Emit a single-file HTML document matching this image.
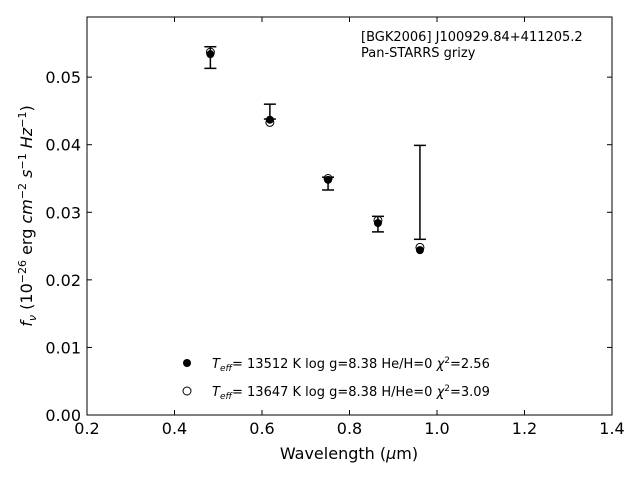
<!DOCTYPE html>
<html><head><meta charset="utf-8"><style>
body{margin:0;background:#fff;}
svg{font-family:"DejaVu Sans","Liberation Sans",sans-serif;}
</style></head><body>
<svg id="chart" width="640" height="480" viewBox="0 0 640 480" xmlns="http://www.w3.org/2000/svg">
<rect x="0" y="0" width="640" height="480" fill="#fff"/>
<g id="marks"></g>
<rect x="87" y="17" width="525" height="398" fill="none" stroke="#000" stroke-width="1"/>
<g id="ticks"></g>
<text x="349" y="459" font-size="16" text-anchor="middle">Wavelength (<tspan font-style="italic">μ</tspan>m)</text>
<text transform="translate(32,216) rotate(-90)" font-size="16" text-anchor="middle"><tspan font-style="italic">f</tspan><tspan font-style="italic" font-size="11" dy="4">ν</tspan><tspan dy="-4"> (10</tspan><tspan font-size="11" dy="-6">−26</tspan><tspan dy="6"> erg </tspan><tspan font-style="italic">cm</tspan><tspan font-size="11" dy="-6">−2</tspan><tspan dy="6"> </tspan><tspan font-style="italic">s</tspan><tspan font-size="11" dy="-6">−1</tspan><tspan dy="6"> </tspan><tspan font-style="italic">Hz</tspan><tspan font-size="11" dy="-6">−1</tspan><tspan dy="6">)</tspan></text>
<text x="361" y="41" font-size="13">[BGK2006] J100929.84+411205.2</text>
<text x="361" y="57" font-size="13">Pan-STARRS grizy</text>
<g>
<circle cx="187" cy="363" r="4" fill="#000"/>
<text x="212" y="368" font-size="13"><tspan font-style="italic">T</tspan><tspan font-style="italic" font-size="9" dy="3">eff</tspan><tspan dy="-3">= 13512 K  log g=8.38  He/H=0  </tspan><tspan font-style="italic">χ</tspan><tspan font-size="9" dy="-5">2</tspan><tspan dy="5">=2.56</tspan></text>
<circle cx="187" cy="391" r="4" fill="#fff" stroke="#000" stroke-width="1"/>
<text x="212" y="396" font-size="13"><tspan font-style="italic">T</tspan><tspan font-style="italic" font-size="9" dy="3">eff</tspan><tspan dy="-3">= 13647 K  log g=8.38  H/He=0  </tspan><tspan font-style="italic">χ</tspan><tspan font-size="9" dy="-5">2</tspan><tspan dy="5">=3.09</tspan></text>
</g>
</svg>
<script>
const wavelengths = [0.482, 0.618, 0.751, 0.865, 0.961];
const errLow = [0.0513, 0.0438, 0.0333, 0.0271, 0.0260];
const errHigh = [0.0545, 0.0460, 0.0352, 0.0294, 0.0399];
const modelHe = [0.0534, 0.0437, 0.0348, 0.0284, 0.0244];
const modelH = [0.0537, 0.0433, 0.0350, 0.0288, 0.0248];
const xTicks = [0.2, 0.4, 0.6, 0.8, 1.0, 1.2, 1.4];
const xTickLabels = ["0.2","0.4","0.6","0.8","1.0","1.2","1.4"];
const yTicks = [0, 0.01, 0.02, 0.03, 0.04, 0.05];
const yTickLabels = ["0.00","0.01","0.02","0.03","0.04","0.05"];

const NS = "http://www.w3.org/2000/svg";
const X0 = 87, X1 = 612, Y0 = 415, Y1 = 17;
const xMin = 0.2, xMax = 1.4, yMin = 0, yMax = 0.0589;
function xs(v){ return X0 + (v - xMin) / (xMax - xMin) * (X1 - X0); }
function ys(v){ return Y0 - (v - yMin) / (yMax - yMin) * (Y0 - Y1); }
function mk(tag, attrs, parent){
  const e = document.createElementNS(NS, tag);
  for (const k in attrs) e.setAttribute(k, attrs[k]);
  parent.appendChild(e);
  return e;
}
const marks = document.getElementById("marks");
const ticks = document.getElementById("ticks");

wavelengths.forEach((w, i) => {
  const cx = xs(w);
  const c1 = mk("circle", {cx: cx, cy: ys(modelH[i]), r: 4, fill: "#fff", stroke: "#000", "stroke-width": 1}, marks);
  
  
  const c2 = mk("circle", {cx: cx, cy: ys(modelHe[i]), r: 4, fill: "#000"}, marks);
  
  
  const g = mk("g", {stroke: "#000", "stroke-width": 1.5}, marks);
  
  
  const yl = ys(errLow[i]), yh = ys(errHigh[i]);
  mk("line", {x1: cx, x2: cx, y1: yl, y2: yh}, g);
  mk("line", {x1: cx - 6, x2: cx + 6, y1: yl, y2: yl}, g);
  mk("line", {x1: cx - 6, x2: cx + 6, y1: yh, y2: yh}, g);
});

xTicks.forEach((v, i) => {
  const x = xs(v);
  const t = mk("line", {x1: x, x2: x, y1: Y0, y2: Y0 - 5, stroke: "#000"}, ticks);
  
  
  const t2 = mk("line", {x1: x, x2: x, y1: Y1, y2: Y1 + 5, stroke: "#000"}, ticks);
  
  
  const l = mk("text", {x: x, y: 434, "font-size": 16, "text-anchor": "middle"}, ticks);
  l.textContent = xTickLabels[i];
  
  
});
yTicks.forEach((v, i) => {
  const y = ys(v);
  const t = mk("line", {x1: X0, x2: X0 + 5, y1: y, y2: y, stroke: "#000"}, ticks);
  
  
  const t2 = mk("line", {x1: X1, x2: X1 - 5, y1: y, y2: y, stroke: "#000"}, ticks);
  
  
  const l = mk("text", {x: 81, y: y + 6, "font-size": 16, "text-anchor": "end"}, ticks);
  l.textContent = yTickLabels[i];
  
  
});
</script>
</body></html>
